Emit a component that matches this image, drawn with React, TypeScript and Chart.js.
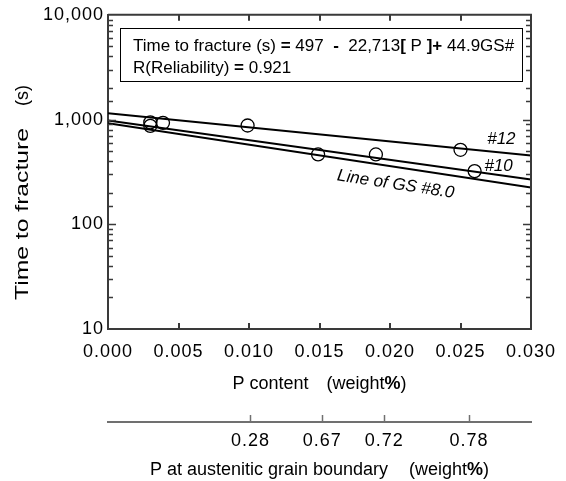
import React, { useEffect, useRef } from 'react';
import { Chart, registerables } from 'chart.js';

Chart.register(...registerables);

// ---------- data ----------
const pContent = [0.003, 0.003, 0.0039, 0.0099, 0.0149, 0.019, 0.025, 0.026];
const timeToFracture = [940, 870, 930, 877, 464, 464, 514, 322];

const lineX = [0, 0.03];
const gs12Line = [1148, 454];
const gs10Line = [978, 267];
const gs8Line = [922, 224];

const xTickValues = [0, 0.005, 0.01, 0.015, 0.02, 0.025, 0.03];
const yLabelValues = [10, 100, 1000, 10000];
const gbTickPositions = [0.0101, 0.0152, 0.0196, 0.0256];
const gbTickLabels = ['0.28', '0.67', '0.72', '0.78'];

const lineLabels = ['#12', '#10', 'Line of GS #8.0'];
const lineLabelX = [0.0279, 0.0277, 0.0204];
const lineLabelY = [645, 357, 240];

// ---------- style ----------
const FONT = '"Liberation Sans", Arial, Helvetica, sans-serif';
const AXIS = '#3a3a3a';
const AXIS2 = '#707070';
const FS = 17;
const TICK_FS = 18;

type Run = { t?: string; bold?: boolean; gap?: number };

function runsWidth(ctx: CanvasRenderingContext2D, runs: Run[], size: number, italic = false) {
  let w = 0;
  for (const r of runs) {
    if (r.gap) { w += r.gap; continue; }
    ctx.font = `${italic ? 'italic ' : ''}${r.bold ? 'bold ' : ''}${size}px ${FONT}`;
    w += ctx.measureText(r.t || '').width;
  }
  return w;
}

function drawRuns(ctx: CanvasRenderingContext2D, runs: Run[], x: number, y: number, size: number, scaleX = 1) {
  ctx.save();
  ctx.translate(x, y);
  ctx.scale(scaleX, 1);
  ctx.textAlign = 'left';
  ctx.textBaseline = 'alphabetic';
  let cx = 0;
  for (const r of runs) {
    if (r.gap) { cx += r.gap; continue; }
    ctx.font = `${r.bold ? 'bold ' : ''}${size}px ${FONT}`;
    ctx.fillText(r.t || '', cx, 0);
    cx += ctx.measureText(r.t || '').width;
  }
  ctx.restore();
}

const decor = {
  id: 'decor',
  beforeDraw(chart: any) {
    // tick labels in the reference are slightly letter-spaced
    chart.ctx.letterSpacing = '1px';
  },
  afterDraw(chart: any) {
    const ctx: CanvasRenderingContext2D = chart.ctx;
    ctx.letterSpacing = '0px';
    const { left, right, top, bottom } = chart.chartArea;
    const xs = chart.scales.x;
    const ys = chart.scales.y;
    const x2 = chart.scales.x2;
    ctx.save();
    ctx.fillStyle = '#000';

    // frame top / right
    ctx.strokeStyle = AXIS;
    ctx.lineWidth = 2;
    ctx.beginPath();
    ctx.moveTo(left, top);
    ctx.lineTo(right, top);
    ctx.lineTo(right, bottom);
    ctx.stroke();

    // x inward ticks
    for (const v of xTickValues.slice(1, -1)) {
      const px = Math.round(xs.getPixelForValue(v));
      ctx.beginPath();
      ctx.moveTo(px, top);
      ctx.lineTo(px, top + 6);
      ctx.moveTo(px, bottom);
      ctx.lineTo(px, bottom - 6);
      ctx.stroke();
    }

    // y inward ticks (log minor/major)
    ctx.lineWidth = 1.5;
    for (const t of ys.ticks) {
      const v = t.value;
      if (v <= 10 || v >= 10000) continue;
      const l = Math.log10(v);
      const major = Math.abs(l - Math.round(l)) < 1e-9;
      const len = major ? 8 : 5;
      const py = Math.round(ys.getPixelForValue(v)) + 0.5;
      ctx.beginPath();
      ctx.moveTo(left, py);
      ctx.lineTo(left + len, py);
      ctx.moveTo(right, py);
      ctx.lineTo(right - len, py);
      ctx.stroke();
    }

    // secondary axis ticks (pointing up)
    ctx.strokeStyle = AXIS2;
    ctx.lineWidth = 1.5;
    for (const v of gbTickPositions) {
      const px = Math.round(x2.getPixelForValue(v)) + 0.5;
      ctx.beginPath();
      ctx.moveTo(px, x2.top);
      ctx.lineTo(px, x2.top - 7);
      ctx.stroke();
    }

    // equation box
    ctx.strokeStyle = '#000';
    ctx.lineWidth = 1;
    ctx.strokeRect(120.5, 28.5, 402, 53);
    const eq1: Run[] = [
      { t: 'Time to fracture (s) ' }, { t: '=', bold: true }, { t: ' 497  ' }, { t: '-', bold: true },
      { t: '  22,713' }, { t: '[', bold: true }, { t: ' P ' }, { t: ']', bold: true }, { t: '+', bold: true },
      { t: ' 44.9GS#' },
    ];
    const eq2: Run[] = [{ t: 'R(Reliability) ' }, { t: '=', bold: true }, { t: ' 0.921' }];
    const w1 = runsWidth(ctx, eq1, FS);
    drawRuns(ctx, eq1, 133, 51, FS, Math.min(1, 382 / w1));
    drawRuns(ctx, eq2, 133, 73, FS);

    // axis titles
    const xt: Run[] = [{ t: 'P content' }, { gap: 18 }, { t: '(weight' }, { t: '%', bold: true }, { t: ')' }];
    const cx = (left + right) / 2;
    const xtW = runsWidth(ctx, xt, 18);
    drawRuns(ctx, xt, cx - xtW / 2, 388.5, 18);
    const x2t: Run[] = [{ t: 'P at austenitic grain boundary' }, { gap: 21 }, { t: '(weight' }, { t: '%', bold: true }, { t: ')' }];
    const x2tW = runsWidth(ctx, x2t, 18);
    drawRuns(ctx, x2t, cx - x2tW / 2, 475, 18);

    // y title (rotated)
    ctx.save();
    ctx.font = `18px ${FONT}`;
    const yt1 = 'Time to fracture';
    const w = ctx.measureText(yt1).width;
    ctx.translate(28, 300);
    ctx.rotate(-Math.PI / 2);
    ctx.scale(172 / w, 1);
    ctx.textBaseline = 'alphabetic';
    ctx.fillText(yt1, 0, 0);
    ctx.restore();
    ctx.save();
    ctx.font = `18px ${FONT}`;
    ctx.translate(28, 106);
    ctx.rotate(-Math.PI / 2);
    ctx.fillText('(s)', 0, 0);
    ctx.restore();

    // line labels
    ctx.font = `italic ${FS}px ${FONT}`;
    ctx.textAlign = 'center';
    ctx.textBaseline = 'middle';
    for (let i = 0; i < 2; i++) {
      ctx.fillText(lineLabels[i], xs.getPixelForValue(lineLabelX[i]), ys.getPixelForValue(lineLabelY[i]));
    }
    const ang = Math.atan2(
      ys.getPixelForValue(gs8Line[1]) - ys.getPixelForValue(gs8Line[0]),
      xs.getPixelForValue(lineX[1]) - xs.getPixelForValue(lineX[0])
    );
    ctx.save();
    ctx.translate(xs.getPixelForValue(lineLabelX[2]), ys.getPixelForValue(lineLabelY[2]));
    ctx.rotate(ang);
    ctx.fillText(lineLabels[2], 0, 0);
    ctx.restore();

    ctx.restore();
  },
};

const isDecade = (v: number) => {
  const l = Math.log10(v);
  return Math.abs(l - Math.round(l)) < 1e-9;
};

export default function App() {
  const ref = useRef<HTMLCanvasElement | null>(null);
  useEffect(() => {
    if (!ref.current) return;
    const mkLine = (ys: number[]) => ({
      type: 'line' as const,
      data: lineX.map((x, i) => ({ x, y: ys[i] })),
      borderColor: '#000',
      borderWidth: 2,
      pointRadius: 0,
      fill: false,
      xAxisID: 'x',
      yAxisID: 'y',
    });
    const tickFont = { family: FONT, size: TICK_FS };
    const chart = new Chart(ref.current, {
      type: 'scatter',
      data: {
        datasets: [
          mkLine(gs12Line) as any,
          mkLine(gs10Line) as any,
          mkLine(gs8Line) as any,
          {
            type: 'scatter',
            data: pContent.map((x, i) => ({ x, y: timeToFracture[i] })),
            pointRadius: 6.5,
            pointBorderWidth: 1.3,
            pointBorderColor: '#000',
            pointBackgroundColor: 'rgba(0,0,0,0)',
            borderColor: '#000',
            backgroundColor: 'rgba(0,0,0,0)',
            xAxisID: 'x',
            yAxisID: 'y',
          },
        ],
      },
      options: {
        responsive: false,
        animation: false,
        devicePixelRatio: 1,
        layout: { padding: { top: 14, right: 35, left: 0, bottom: 0 } },
        plugins: { legend: { display: false }, tooltip: { enabled: false } },
        scales: {
          x: {
            type: 'linear',
            position: 'bottom',
            weight: 0,
            min: 0,
            max: 0.03,
            grid: { display: false, drawTicks: false },
            border: { display: true, color: AXIS, width: 2 },
            ticks: {
              autoSkip: false,
              maxRotation: 0,
              minRotation: 0,
              padding: 12,
              color: '#000',
              font: tickFont,
              callback: (v: any) => Number(v).toFixed(3),
            },
            afterBuildTicks: (s: any) => { s.ticks = xTickValues.map((value) => ({ value })); },
            afterFit: (s: any) => { s.height = 93; },
          },
          x2: {
            type: 'linear',
            position: 'bottom',
            weight: 1,
            min: 0,
            max: 0.03,
            grid: { display: false, drawTicks: false },
            border: { display: true, color: AXIS2, width: 2 },
            ticks: {
              autoSkip: false,
              maxRotation: 0,
              minRotation: 0,
              padding: 8,
              color: '#000',
              font: tickFont,
              callback: (_v: any, i: number) => gbTickLabels[i],
            },
            afterBuildTicks: (s: any) => { s.ticks = gbTickPositions.map((value) => ({ value })); },
            afterFit: (s: any) => { s.height = 59; },
          },
          y: {
            type: 'logarithmic',
            position: 'left',
            min: 10,
            max: 10000,
            grid: { display: false, drawTicks: false },
            border: { display: true, color: AXIS, width: 2 },
            ticks: {
              autoSkip: false,
              padding: 4,
              color: '#000',
              font: tickFont,
              callback: (v: any) => (isDecade(Number(v)) && yLabelValues.includes(Math.round(Number(v))) ? Math.round(Number(v)).toLocaleString('en-US') : ''),
            },
            afterFit: (s: any) => { s.width = 108; },
          },
        },
      } as any,
      plugins: [decor],
    });
    return () => chart.destroy();
  }, []);
  return (
    <canvas
      ref={ref}
      width={566}
      height={481}
      style={{ position: 'absolute', left: 0, top: 0, width: 566, height: 481 }}
    />
  );
}
